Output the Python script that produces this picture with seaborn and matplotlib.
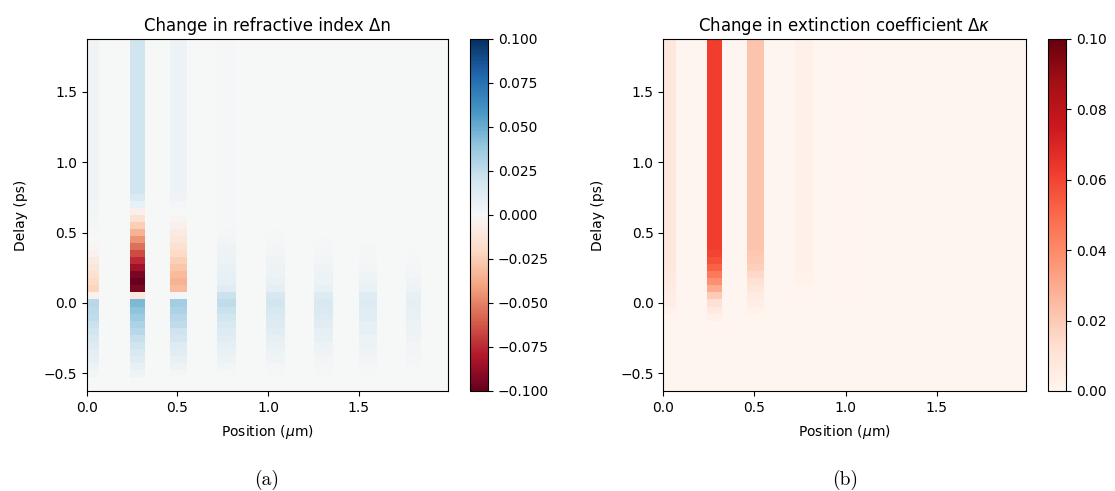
import numpy as np
import pandas as pd
import seaborn as sns
import matplotlib
matplotlib.use("Agg")
import matplotlib.pyplot as plt

# layer edges along the structure (um)
layer_start = [0.00, 0.24, 0.46, 0.72, 0.99, 1.25, 1.50, 1.76]
layer_end = [0.07, 0.32, 0.55, 0.82, 1.09, 1.36, 1.60, 1.84]

# delay knots (ps); each value holds from its knot up to the next one
delay_knots = [-0.60, -0.55, -0.50, -0.45, -0.40, -0.35, -0.30, -0.25, -0.20, -0.15,
               -0.10, -0.05, 0.00, 0.05, 0.10, 0.15, 0.20, 0.25, 0.30, 0.35,
               0.40, 0.45, 0.50, 0.55, 0.60, 0.65, 0.70, 0.75, 0.80]

# change in refractive index per layer
dn_layer1 = [0.000, 0.000, 0.003, 0.005, 0.008, 0.010, 0.013, 0.016, 0.019, 0.022,
             0.025, 0.027, 0.028, -0.004, -0.022, -0.020, -0.016, -0.012, -0.008, -0.004,
             -0.001, 0.000, 0.001, 0.002, 0.002, 0.003, 0.003, 0.004, 0.004]
dn_layer2 = [0.000, 0.001, 0.004, 0.008, 0.012, 0.016, 0.020, 0.024, 0.028, 0.032,
             0.036, 0.040, 0.045, -0.010, -0.095, -0.100, -0.095, -0.085, -0.075, -0.065,
             -0.055, -0.045, -0.035, -0.025, -0.015, -0.005, 0.008, 0.015, 0.020]
dn_layer3 = [0.000, 0.000, 0.002, 0.005, 0.008, 0.011, 0.014, 0.018, 0.021, 0.025,
             0.028, 0.032, 0.035, 0.002, -0.032, -0.035, -0.032, -0.028, -0.024, -0.020,
             -0.016, -0.012, -0.008, -0.005, -0.002, 0.000, 0.002, 0.004, 0.006]
dn_layer4 = [0.000, 0.000, 0.001, 0.003, 0.005, 0.007, 0.009, 0.011, 0.013, 0.016,
             0.019, 0.022, 0.025, 0.022, 0.012, 0.009, 0.008, 0.007, 0.006, 0.005,
             0.004, 0.003, 0.002, 0.001, 0.001, 0.001, 0.001, 0.001, 0.001]
dn_layer5 = [0.000, 0.000, 0.001, 0.002, 0.004, 0.005, 0.007, 0.009, 0.011, 0.013,
             0.015, 0.017, 0.019, 0.017, 0.010, 0.007, 0.006, 0.005, 0.004, 0.003,
             0.002, 0.001, 0.001, 0.000, 0.000, 0.000, 0.000, 0.000, 0.000]
dn_layer6 = [0.000, 0.000, 0.001, 0.002, 0.003, 0.004, 0.006, 0.008, 0.009, 0.011,
             0.013, 0.015, 0.016, 0.014, 0.008, 0.006, 0.005, 0.004, 0.003, 0.002,
             0.001, 0.001, 0.000, 0.000, 0.000, 0.000, 0.000, 0.000, 0.000]
dn_layer7 = [0.000, 0.000, 0.001, 0.002, 0.003, 0.004, 0.005, 0.006, 0.008, 0.009,
             0.011, 0.012, 0.013, 0.012, 0.007, 0.005, 0.004, 0.003, 0.002, 0.002,
             0.001, 0.000, 0.000, 0.000, 0.000, 0.000, 0.000, 0.000, 0.000]
dn_layer8 = [0.000, 0.000, 0.000, 0.001, 0.002, 0.003, 0.003, 0.004, 0.005, 0.006,
             0.007, 0.008, 0.009, 0.008, 0.005, 0.004, 0.003, 0.002, 0.001, 0.001,
             0.000, 0.000, 0.000, 0.000, 0.000, 0.000, 0.000, 0.000, 0.000]

# change in extinction coefficient per layer
dk_layer1 = [0.000, 0.000, 0.000, 0.000, 0.000, 0.000, 0.000, 0.000, 0.000, 0.000,
             0.001, 0.002, 0.004, 0.005, 0.006, 0.007, 0.007, 0.008, 0.008, 0.008,
             0.008, 0.008, 0.008, 0.008, 0.008, 0.008, 0.008, 0.008, 0.008]
dk_layer2 = [0.000, 0.000, 0.000, 0.000, 0.000, 0.000, 0.000, 0.000, 0.000, 0.001,
             0.003, 0.007, 0.012, 0.020, 0.030, 0.038, 0.045, 0.052, 0.057, 0.060,
             0.062, 0.062, 0.062, 0.062, 0.062, 0.062, 0.062, 0.062, 0.062]
dk_layer3 = [0.000, 0.000, 0.000, 0.000, 0.000, 0.000, 0.000, 0.000, 0.000, 0.000,
             0.001, 0.002, 0.004, 0.006, 0.009, 0.012, 0.015, 0.018, 0.020, 0.021,
             0.022, 0.022, 0.022, 0.022, 0.022, 0.022, 0.022, 0.022, 0.022]
dk_layer4 = [0.000, 0.000, 0.000, 0.000, 0.000, 0.000, 0.000, 0.000, 0.000, 0.000,
             0.000, 0.000, 0.000, 0.001, 0.001, 0.002, 0.002, 0.003, 0.003, 0.003,
             0.003, 0.003, 0.003, 0.003, 0.003, 0.003, 0.003, 0.003, 0.003]
dk_layer5 = [0.000, 0.000, 0.000, 0.000, 0.000, 0.000, 0.000, 0.000, 0.000, 0.000,
             0.000, 0.000, 0.000, 0.000, 0.001, 0.001, 0.001, 0.001, 0.001, 0.001,
             0.001, 0.001, 0.001, 0.001, 0.001, 0.001, 0.001, 0.001, 0.001]

x_ticks = [0.0, 0.5, 1.0, 1.5]
y_ticks = [-0.5, 0.0, 0.5, 1.0, 1.5]
dn_cbar_ticks = [-0.1, -0.075, -0.05, -0.025, 0.0, 0.025, 0.05, 0.075, 0.1]
dk_cbar_ticks = [0.0, 0.02, 0.04, 0.06, 0.08, 0.1]

# sampling grid of the maps
pos_step = 0.01
delay_step = 0.05
position_cols = np.round(np.arange(199) * pos_step, 2)
delay_rows = np.round(-0.60 + np.arange(50) * delay_step, 2)
delay_low_edge = delay_rows[0] - delay_step / 2


def build_frame(layer_values):
    grid = np.zeros((len(delay_rows), len(position_cols)))
    knot_idx = np.searchsorted(delay_knots, delay_rows + 1e-9, side="right") - 1
    for start, end, values in zip(layer_start, layer_end, layer_values):
        cols = (position_cols >= start - 1e-9) & (position_cols < end - 1e-9)
        grid[:, cols] = np.asarray(values)[knot_idx][:, None]
    return pd.DataFrame(grid, index=delay_rows, columns=position_cols)


dn_frame = build_frame([dn_layer1, dn_layer2, dn_layer3, dn_layer4,
                        dn_layer5, dn_layer6, dn_layer7, dn_layer8])
dk_frame = build_frame([dk_layer1, dk_layer2, dk_layer3, dk_layer4, dk_layer5])


def fmt(v):
    return f"{v:.1f}".replace("-", "\u2212")


def draw_map(ax, cax, frame, cmap, vmin, vmax, cticks, title):
    sns.heatmap(frame, ax=ax, cbar_ax=cax, cmap=cmap, vmin=vmin, vmax=vmax,
                xticklabels=False, yticklabels=False)
    ax.invert_yaxis()
    for s in ax.spines.values():
        s.set_visible(True)
        s.set_linewidth(0.8)
    ax.set_xticks(np.array(x_ticks) / pos_step)
    ax.set_xticklabels([fmt(v) for v in x_ticks], rotation=0)
    ax.set_yticks((np.array(y_ticks) - delay_low_edge) / delay_step)
    ax.set_yticklabels([fmt(v) for v in y_ticks], rotation=0)
    ax.tick_params(direction="out", length=3.5, width=0.8, labelsize=10)
    ax.set_xlabel("Position ($\\mu$m)", fontsize=10, labelpad=6)
    ax.set_ylabel("Delay (ps)", fontsize=10, labelpad=11)
    ax.set_title(title, fontsize=12)
    cb = ax.collections[0].colorbar
    cb.outline.set_linewidth(0.8)
    cb.set_ticks(cticks)
    cb.ax.tick_params(labelsize=10, length=3.5, width=0.8)


fig = plt.figure(figsize=(11.15, 4.91), dpi=100)
ax1 = fig.add_axes([0.0778, 0.2037, 0.3238, 0.7169])
cax1 = fig.add_axes([0.4215, 0.2037, 0.0164, 0.7169])
ax2 = fig.add_axes([0.5949, 0.2037, 0.3253, 0.7169])
cax2 = fig.add_axes([0.9399, 0.2037, 0.0161, 0.7169])

draw_map(ax1, cax1, dn_frame, "RdBu", -0.1, 0.1, dn_cbar_ticks,
         "Change in refractive index \u0394n")
draw_map(ax2, cax2, dk_frame, "Reds", 0.0, 0.1, dk_cbar_ticks,
         "Change in extinction coefficient \u0394$\\kappa$")

fig.text(267 / 1115, 1 - 480 / 491, "(a)", ha="center", va="center",
         fontfamily="cmr10", fontsize=14)
fig.text(845 / 1115, 1 - 480 / 491, "(b)", ha="center", va="center",
         fontfamily="cmr10", fontsize=14)

fig.savefig("out.png", dpi=100)
